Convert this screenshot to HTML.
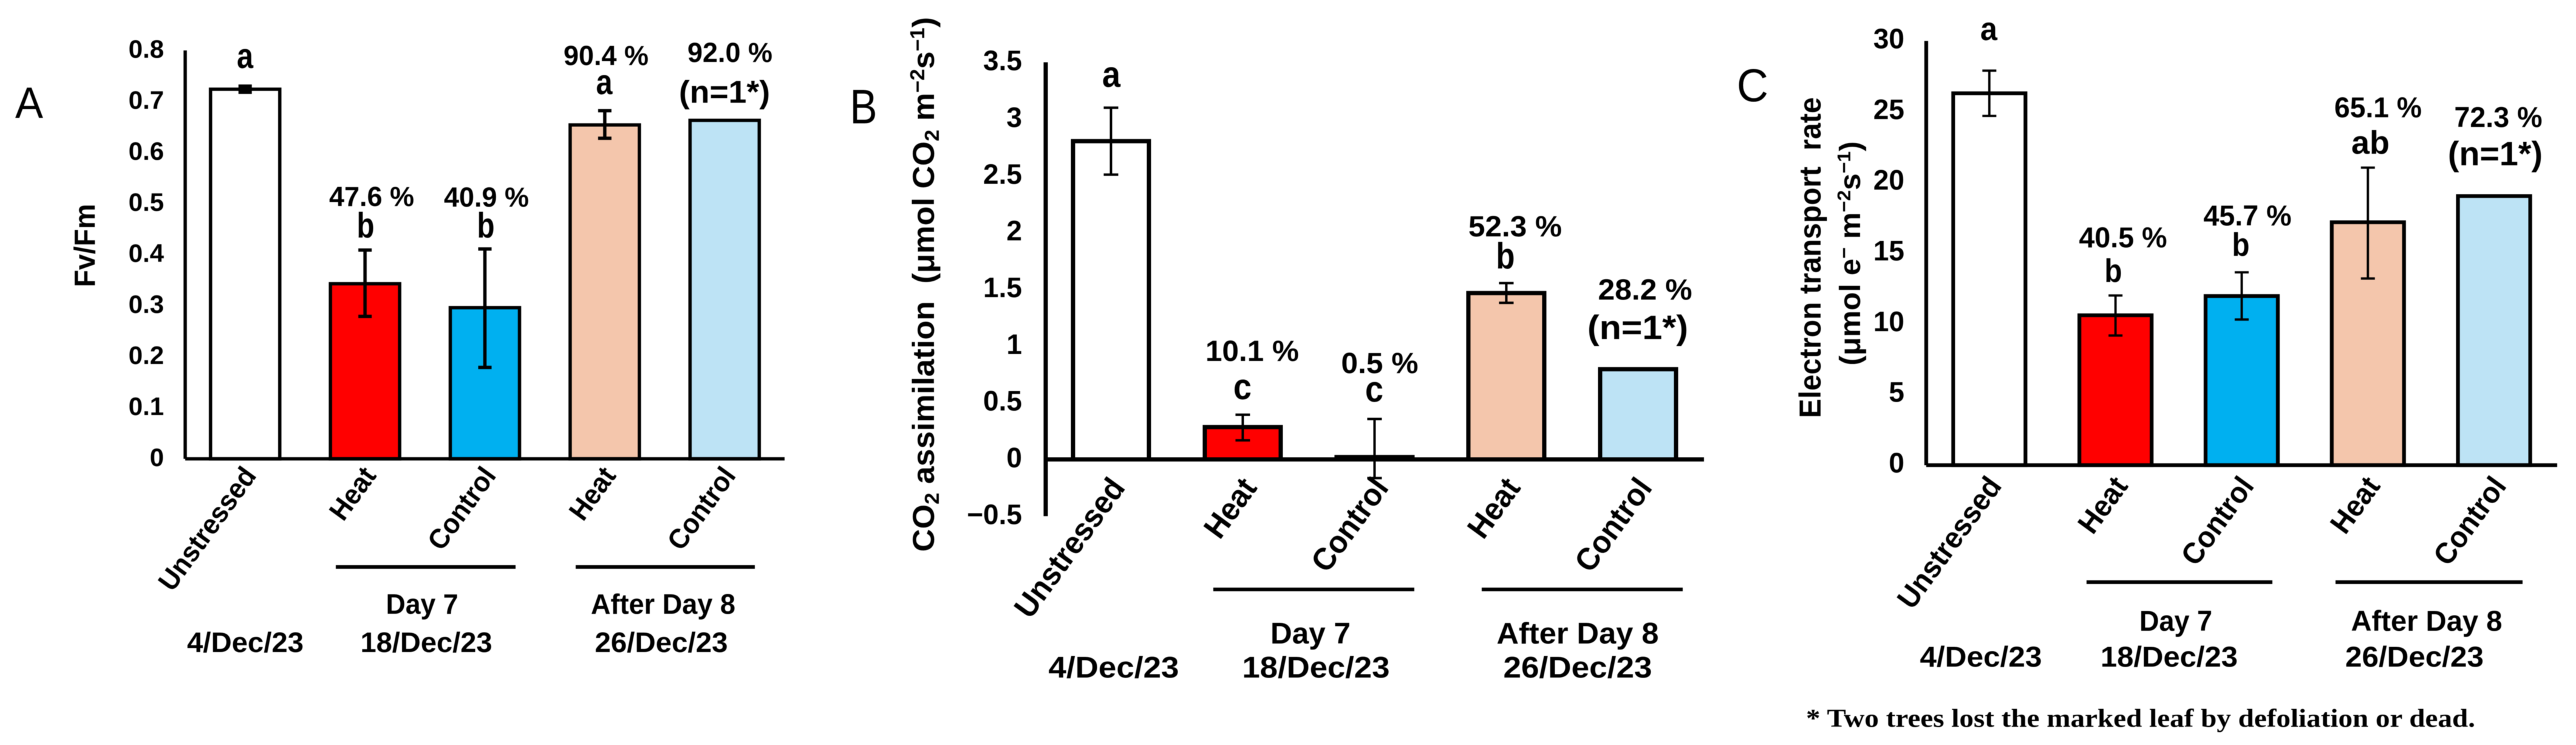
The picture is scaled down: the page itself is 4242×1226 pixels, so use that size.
<!DOCTYPE html>
<html lang="en">
<head>
<meta charset="utf-8">
<title>Fv/Fm, CO2 assimilation and electron transport rate</title>
<style>
html,body{margin:0;padding:0;background:#fff;}
svg{display:block;filter:blur(0.6px);}
text{font-family:"Liberation Sans",sans-serif;font-weight:bold;fill:#000;white-space:pre;}
.mid{text-anchor:middle;}
.panel{font-weight:normal;text-anchor:middle;}
.foot{font-family:"Liberation Serif",serif;}
</style>
</head>
<body>
<svg id="figure" xmlns="http://www.w3.org/2000/svg" width="4242" height="1226" viewBox="0 0 4242 1226">
<rect width="4242" height="1226" fill="#fff"/>

<g id="chart-a">
<text class="panel" x="48" y="194" font-size="72" textLength="46" lengthAdjust="spacingAndGlyphs">A</text>
<text class="mid" transform="translate(156 404) rotate(-90)" font-size="48" textLength="137" lengthAdjust="spacingAndGlyphs">Fv/Fm</text>
<text class="mid" x="403.5" y="112" font-size="58" textLength="27" lengthAdjust="spacingAndGlyphs">a</text>
<text class="mid" x="612" y="339" font-size="45" textLength="140" lengthAdjust="spacingAndGlyphs">47.6 %</text>
<text class="mid" x="602" y="391" font-size="58" textLength="29" lengthAdjust="spacingAndGlyphs">b</text>
<text class="mid" x="801" y="340" font-size="45" textLength="140" lengthAdjust="spacingAndGlyphs">40.9 %</text>
<text class="mid" x="800" y="391" font-size="58" textLength="29" lengthAdjust="spacingAndGlyphs">b</text>
<text class="mid" x="998" y="107" font-size="45" textLength="140" lengthAdjust="spacingAndGlyphs">90.4 %</text>
<text class="mid" x="995" y="155" font-size="58" textLength="27" lengthAdjust="spacingAndGlyphs">a</text>
<text class="mid" x="1202" y="102" font-size="45" textLength="140" lengthAdjust="spacingAndGlyphs">92.0 %</text>
<text class="mid" x="1193" y="169" font-size="52" textLength="150" lengthAdjust="spacingAndGlyphs">(n=1*)</text>
<rect x="553" y="930" width="296" height="6"/>
<rect x="948" y="930" width="295" height="6"/>
<text class="mid" x="695" y="1010" font-size="46" textLength="119" lengthAdjust="spacingAndGlyphs">Day 7</text>
<text class="mid" x="1092" y="1010" font-size="46" textLength="238" lengthAdjust="spacingAndGlyphs">After Day 8</text>
<text class="mid" x="404" y="1073" font-size="46" textLength="192" lengthAdjust="spacingAndGlyphs">4/Dec/23</text>
<text class="mid" x="702" y="1073" font-size="46" textLength="217" lengthAdjust="spacingAndGlyphs">18/Dec/23</text>
<text class="mid" x="1089" y="1073" font-size="46" textLength="219" lengthAdjust="spacingAndGlyphs">26/Dec/23</text>
</g>

<g id="chart-b">
<text class="panel" x="1422" y="203" font-size="80" textLength="45" lengthAdjust="spacingAndGlyphs">B</text>
<text transform="translate(1538 908) rotate(-90)" font-size="50" textLength="880" lengthAdjust="spacingAndGlyphs">CO<tspan dy="8" font-size="33">2</tspan><tspan dy="-8"> assimilation  (μmol CO</tspan><tspan dy="8" font-size="33">2</tspan><tspan dy="-8"> m</tspan><tspan dy="-16" font-size="33">−2</tspan><tspan dy="16">s</tspan><tspan dy="-16" font-size="33">−1</tspan><tspan dy="16">)</tspan></text>
<text class="mid" x="1830" y="143" font-size="60" textLength="30" lengthAdjust="spacingAndGlyphs">a</text>
<text class="mid" x="2062" y="594" font-size="48" textLength="154" lengthAdjust="spacingAndGlyphs">10.1 %</text>
<text class="mid" x="2046" y="657" font-size="60" textLength="30" lengthAdjust="spacingAndGlyphs">c</text>
<text class="mid" x="2272" y="614" font-size="48" textLength="127" lengthAdjust="spacingAndGlyphs">0.5 %</text>
<text class="mid" x="2263" y="661" font-size="60" textLength="30" lengthAdjust="spacingAndGlyphs">c</text>
<text class="mid" x="2495" y="389" font-size="48" textLength="154" lengthAdjust="spacingAndGlyphs">52.3 %</text>
<text class="mid" x="2479" y="442" font-size="60" textLength="31" lengthAdjust="spacingAndGlyphs">b</text>
<text class="mid" x="2709" y="493" font-size="48" textLength="155" lengthAdjust="spacingAndGlyphs">28.2 %</text>
<text class="mid" x="2697" y="558" font-size="56" textLength="166" lengthAdjust="spacingAndGlyphs">(n=1*)</text>
<rect x="1998" y="967" width="331" height="6"/>
<rect x="2440" y="967" width="331" height="6"/>
<text class="mid" x="2158" y="1059" font-size="49" textLength="132" lengthAdjust="spacingAndGlyphs">Day 7</text>
<text class="mid" x="2598" y="1059" font-size="49" textLength="267" lengthAdjust="spacingAndGlyphs">After Day 8</text>
<text class="mid" x="1834" y="1115" font-size="49" textLength="215" lengthAdjust="spacingAndGlyphs">4/Dec/23</text>
<text class="mid" x="2167" y="1115" font-size="49" textLength="243" lengthAdjust="spacingAndGlyphs">18/Dec/23</text>
<text class="mid" x="2598" y="1115" font-size="49" textLength="245" lengthAdjust="spacingAndGlyphs">26/Dec/23</text>
</g>

<g id="chart-c">
<text class="panel" x="2886" y="167" font-size="76" textLength="52" lengthAdjust="spacingAndGlyphs">C</text>
<text class="mid" transform="translate(2998 424) rotate(-90)" font-size="50" textLength="528" lengthAdjust="spacingAndGlyphs">Electron transport  rate</text>
<text class="mid" transform="translate(3063 417) rotate(-90)" font-size="48" textLength="369" lengthAdjust="spacingAndGlyphs">(μmol e<tspan dy="-16" font-size="31">−</tspan><tspan dy="16"> m</tspan><tspan dy="-16" font-size="31">−2</tspan><tspan dy="16">s</tspan><tspan dy="-16" font-size="31">−1</tspan><tspan dy="16">)</tspan></text>
<text class="mid" x="3275" y="66" font-size="54" textLength="28" lengthAdjust="spacingAndGlyphs">a</text>
<text class="mid" x="3496" y="407" font-size="47" textLength="145" lengthAdjust="spacingAndGlyphs">40.5 %</text>
<text class="mid" x="3480" y="464" font-size="54" textLength="29" lengthAdjust="spacingAndGlyphs">b</text>
<text class="mid" x="3701" y="371" font-size="47" textLength="145" lengthAdjust="spacingAndGlyphs">45.7 %</text>
<text class="mid" x="3690" y="421" font-size="54" textLength="29" lengthAdjust="spacingAndGlyphs">b</text>
<text class="mid" x="3916" y="193" font-size="47" textLength="144" lengthAdjust="spacingAndGlyphs">65.1 %</text>
<text class="mid" x="3903.5" y="253" font-size="54" textLength="63" lengthAdjust="spacingAndGlyphs">ab</text>
<text class="mid" x="4114" y="209" font-size="47" textLength="145" lengthAdjust="spacingAndGlyphs">72.3 %</text>
<text class="mid" x="4109" y="272" font-size="56" textLength="156" lengthAdjust="spacingAndGlyphs">(n=1*)</text>
<rect x="3436" y="955" width="306" height="6"/>
<rect x="3846" y="955" width="308" height="6"/>
<text class="mid" x="3583" y="1038" font-size="47" textLength="120" lengthAdjust="spacingAndGlyphs">Day 7</text>
<text class="mid" x="3996" y="1038" font-size="47" textLength="249" lengthAdjust="spacingAndGlyphs">After Day 8</text>
<text class="mid" x="3262" y="1097" font-size="47" textLength="201" lengthAdjust="spacingAndGlyphs">4/Dec/23</text>
<text class="mid" x="3572" y="1097" font-size="47" textLength="226" lengthAdjust="spacingAndGlyphs">18/Dec/23</text>
<text class="mid" x="3976" y="1097" font-size="47" textLength="228" lengthAdjust="spacingAndGlyphs">26/Dec/23</text>
<text class="mid foot" x="3525" y="1196" font-size="42" textLength="1102" lengthAdjust="spacingAndGlyphs">* Two trees lost the marked leaf by defoliation or dead.</text>
</g>
</svg>
<script>
const categories = ['Unstressed', 'Heat', 'Control', 'Heat', 'Control'];
const barFills = ['#ffffff', '#ff0000', '#00b0f0', '#f4c6ac', '#bde3f5'];

const fvFmValues = [0.724, 0.343, 0.296, 0.654, 0.663];
const fvFmHigh = [0.730, 0.409, 0.411, 0.682, null];
const fvFmLow = [0.718, 0.279, 0.179, 0.628, null];
const fvFmTicks = [0, 0.1, 0.2, 0.3, 0.4, 0.5, 0.6, 0.7, 0.8];

const co2Values = [2.805, 0.285, 0.02, 1.466, 0.795];
const co2High = [3.10, 0.394, 0.356, 1.554, null];
const co2Low = [2.51, 0.168, -0.165, 1.38, null];
const co2Ticks = [-0.5, 0, 0.5, 1, 1.5, 2, 2.5, 3, 3.5];

const etrValues = [26.3, 10.6, 11.96, 17.18, 19.03];
const etrHigh = [27.9, 12.0, 13.64, 21.04, null];
const etrLow = [24.7, 9.17, 10.3, 13.2, null];
const etrTicks = [0, 5, 10, 15, 20, 25, 30];

const NS = 'http://www.w3.org/2000/svg';

function make(parent, tag, attrs) {
  const el = document.createElementNS(NS, tag);
  for (const k in attrs) el.setAttribute(k, attrs[k]);
  parent.appendChild(el);
  return el;
}

function drawPanel(cfg) {
  const host = document.getElementById(cfg.id);
  const x = i => cfg.left + cfg.band * (i + 0.5);
  const y = v => cfg.y0 - v * cfg.unit;
  const right = cfg.left + cfg.band * categories.length;
  const axisMin = Math.min(...cfg.ticks);
  const axisMax = Math.max(...cfg.ticks);

  categories.forEach((name, i) => {
    const top = y(cfg.values[i]);
    const bar = make(host, 'rect', {
      x: x(i) - cfg.barW / 2,
      y: Math.min(top, cfg.y0),
      width: cfg.barW,
      height: Math.abs(cfg.y0 - top),
      fill: barFills[i],
      stroke: '#000',
      'stroke-width': cfg.stroke
    });
    
    
  });

  const yAxis = make(host, 'line', {
    x1: cfg.yAxisX, x2: cfg.yAxisX, y1: y(axisMax), y2: y(axisMin),
    stroke: '#000', 'stroke-width': cfg.stroke
  });
  
  

  const xAxis = make(host, 'line', {
    x1: cfg.yAxisX, x2: right, y1: cfg.y0, y2: cfg.y0,
    stroke: '#000', 'stroke-width': cfg.stroke
  });
  
  

  categories.forEach((name, i) => {
    if (cfg.high[i] === null) return;
    const g = make(host, 'g', { stroke: '#000', 'stroke-width': cfg.errW });
    
    
    const cx = x(i);
    const hi = y(cfg.high[i]);
    const lo = y(cfg.low[i]);
    make(g, 'line', { x1: cx, x2: cx, y1: hi, y2: lo });
    make(g, 'line', { x1: cx - cfg.cap / 2, x2: cx + cfg.cap / 2, y1: hi, y2: hi });
    make(g, 'line', { x1: cx - cfg.cap / 2, x2: cx + cfg.cap / 2, y1: lo, y2: lo });
  });

  cfg.ticks.forEach(t => {
    const label = make(host, 'text', {
      x: cfg.tickX,
      y: y(t) + cfg.tickOff,
      'font-size': cfg.tickSize,
      'text-anchor': 'end'
    });
    label.textContent = String(t).replace('-', '\u2212');
    
    
  });

  categories.forEach((name, i) => {
    const label = make(host, 'text', {
      transform: 'translate(' + (x(i) + cfg.catDx) + ' ' + cfg.catY + ') rotate(-54) scale(0.95 1)',
      'font-size': cfg.catSize,
      'text-anchor': 'end'
    });
    label.textContent = name;
    
    
  });
}

drawPanel({ id: 'chart-a', values: fvFmValues, high: fvFmHigh, low: fvFmLow, ticks: fvFmTicks,
  left: 305, yAxisX: 305, band: 197.4, y0: 755, unit: 840, barW: 114, stroke: 5.5, errW: 5.5, cap: 22,
  tickX: 270, tickSize: 42, tickOff: 12, catDx: 20, catY: 783, catSize: 46 });
drawPanel({ id: 'chart-b', values: co2Values, high: co2High, low: co2Low, ticks: co2Ticks,
  left: 1721, yAxisX: 1722, band: 217, y0: 756, unit: 186.7, barW: 125, stroke: 7, errW: 4, cap: 24,
  tickX: 1683, tickSize: 46, tickOff: 13, catDx: 25, catY: 803, catSize: 52 });
drawPanel({ id: 'chart-c', values: etrValues, high: etrHigh, low: etrLow, ticks: etrTicks,
  left: 3172, yAxisX: 3172, band: 207.8, y0: 765.5, unit: 23.27, barW: 119, stroke: 6.2, errW: 3.8, cap: 23,
  tickX: 3136, tickSize: 46, tickOff: 12, catDx: 22, catY: 800, catSize: 49 });
</script>
</body>
</html>
